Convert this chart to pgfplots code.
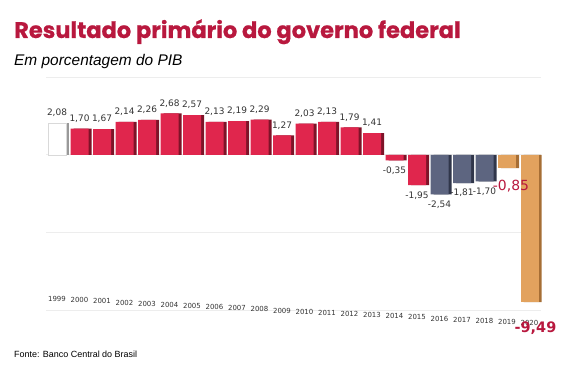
\documentclass[border=0pt]{standalone}
\usepackage{fontspec}
\setmainfont{Liberation Sans}
\newfontfamily\titlefont{Poppins}[BoldFeatures={FakeBold=0.8}]
\newfontfamily\labfont{DejaVu Sans}
\usepackage{pgfplots}
\pgfplotsset{compat=1.18}
\definecolor{tred}{HTML}{B8183E}
\definecolor{bred}{HTML}{E0264D}
\definecolor{bredd}{HTML}{7E1328}
\definecolor{bblue}{HTML}{5D6580}
\definecolor{bblued}{HTML}{30364A}
\definecolor{borg}{HTML}{E2A25E}
\definecolor{borgd}{HTML}{A66E35}
\definecolor{lab}{HTML}{333333}
\begin{document}
\begin{tikzpicture}
\useasboundingbox (0bp,0bp) rectangle (577bp,381bp);
\node[anchor=base west, text=tred, font=\titlefont\bfseries\fontsize{22.6}{24}\selectfont, inner sep=0] at (14bp,343bp) {Resultado primário do governo federal};
\node[anchor=base west, font=\itshape\fontsize{15.5}{18}\selectfont, inner sep=0] at (14bp,315bp) {Em porcentagem do PIB};
\node[anchor=base west, font=\fontsize{9}{11}\selectfont, inner sep=0] at (14bp,24bp) {Fonte: Banco Central do Brasil};
\begin{axis}[
  at={(45.75bp,71bp)}, anchor=south west,
  scale only axis, width=495bp, height=232.5bp,
  xmin=-0.5, xmax=21.5, ymin=-10, ymax=5,
  clip=false,
  axis line style={draw=none},
  major tick length=0pt,
  xtick={0,...,21},
  xticklabels={1999,2000,2001,2002,2003,2004,2005,2006,2007,2008,2009,2010,2011,2012,2013,2014,2015,2016,2017,2018,2019,2020},
  xticklabel style={font=\labfont\fontsize{7}{8}\selectfont, text=lab, yshift={(17-1.14*\ticknum)*1bp}},
  ytick={-10,-5,0,5}, yticklabels={},
  ymajorgrids, grid style={line width=1bp, color=black!7},
  /pgf/number format/assume math mode=true,
  nodes near coords={\pgfmathprintnumber[fixed, fixed zerofill, precision=2, use comma]{\pgfplotspointmeta}},
  every node near coord/.append style={font=\labfont\fontsize{9}{10}\selectfont, text=lab, inner xsep=1bp, inner ysep=6bp},
]
% side faces
\addplot[ybar, bar width=18bp, bar shift=3bp, fill=black!40, draw=none, nodes near coords={}] coordinates {(0,2.08)};
\addplot[ybar, bar width=18bp, bar shift=3bp, fill=bredd, draw=none, nodes near coords={}] coordinates {(1,1.70) (2,1.67) (3,2.14) (4,2.26) (5,2.68) (6,2.57) (7,2.13) (8,2.19) (9,2.29) (10,1.27) (11,2.03) (12,2.13) (13,1.79) (14,1.41) (15,-0.35) (16,-1.95)};
\addplot[ybar, bar width=18bp, bar shift=3bp, fill=bblued, draw=none, nodes near coords={}] coordinates {(17,-2.54) (18,-1.81) (19,-1.70)};
\addplot[ybar, bar width=18bp, bar shift=3bp, fill=borgd, draw=none, nodes near coords={}] coordinates {(20,-0.85) (21,-9.49)};
% fronts
\addplot[ybar, bar width=18bp, bar shift=0bp, fill=white, draw=black!15] coordinates {(0,2.08)};
\addplot[ybar, bar width=18bp, bar shift=0bp, fill=bred, draw=none] coordinates {(1,1.70) (2,1.67) (3,2.14) (4,2.26) (5,2.68) (6,2.57) (7,2.13) (8,2.19) (9,2.29) (10,1.27) (11,2.03) (12,2.13) (13,1.79) (14,1.41) (15,-0.35) (16,-1.95)};
\addplot[ybar, bar width=18bp, bar shift=0bp, fill=bblue, draw=none] coordinates {(17,-2.54) (18,-1.81) (19,-1.70)};
\addplot[ybar, bar width=18bp, bar shift=0bp, fill=borg, draw=none, every node near coord/.append style={font=\labfont\bfseries\fontsize{14.5}{16}\selectfont, text=tred, inner ysep=2bp, yshift=-17bp, xshift=6bp}] coordinates {(21,-9.49)};
\addplot[ybar, bar width=18bp, bar shift=0bp, fill=borg, draw=none, every node near coord/.append style={font=\labfont\fontsize{14}{16}\selectfont, text=tred, inner ysep=2bp, yshift=-10bp, xshift=4bp}] coordinates {(20,-0.85)};
\end{axis}
\end{tikzpicture}
\end{document}
